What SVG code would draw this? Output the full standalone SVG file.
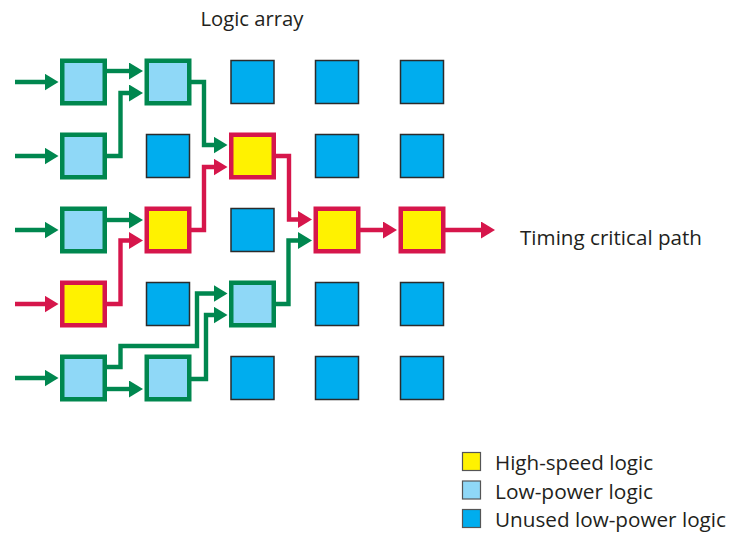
<svg xmlns="http://www.w3.org/2000/svg" width="737" height="533" viewBox="0 0 737 533">
<style>
.lbl{font-family:"Open Sans","Liberation Sans",sans-serif;font-size:20.5px;fill:#231f20}
.g{fill:none;stroke:#00874f;stroke-width:4.4;stroke-linejoin:miter}
.r{fill:none;stroke:#d6164b;stroke-width:4.4;stroke-linejoin:miter}
.lp{fill:#8fd8f7;stroke:#00874f;stroke-width:4.5}
.hs{fill:#fff200;stroke:#d6164b;stroke-width:4.5}
.un{fill:#00adee;stroke:#2b2b2b;stroke-width:1.5}
.lg{stroke:#555;stroke-width:1.2}
</style>
<defs>
<marker id="ag" markerUnits="userSpaceOnUse" markerWidth="14" markerHeight="17" refX="6" refY="8.5" orient="auto"><path d="M0,0 L14,8.5 L0,17 z" fill="#00874f"/></marker>
<marker id="ar" markerUnits="userSpaceOnUse" markerWidth="14" markerHeight="17" refX="6" refY="8.5" orient="auto"><path d="M0,0 L14,8.5 L0,17 z" fill="#d6164b"/></marker>
</defs>
<text class="lbl" x="200.5" y="26" textLength="103" lengthAdjust="spacingAndGlyphs">Logic array</text>
<text class="lbl" x="520" y="245" textLength="182" lengthAdjust="spacingAndGlyphs">Timing critical path</text>
<g id="connectors">
<path class="g" marker-end="url(#ag)" d="M15,82 H50.5"/>
<path class="g" marker-end="url(#ag)" d="M15,156 H50.5"/>
<path class="g" marker-end="url(#ag)" d="M15,230 H50.5"/>
<path class="r" marker-end="url(#ar)" d="M15,304 H50.5"/>
<path class="g" marker-end="url(#ag)" d="M15,378 H50.5"/>
<path class="g" marker-end="url(#ag)" d="M104,71 H135"/>
<path class="g" marker-end="url(#ag)" d="M104,156 H120.5 V93 H135"/>
<path class="g" marker-end="url(#ag)" d="M188,82 H204 V145 H219.5"/>
<path class="g" marker-end="url(#ag)" d="M104,220 H135"/>
<path class="r" marker-end="url(#ar)" d="M104,304 H120.5 V240.5 H135"/>
<path class="r" marker-end="url(#ar)" d="M188,230 H204 V167 H219.5"/>
<path class="r" marker-end="url(#ar)" d="M272,156 H289 V219.5 H304"/>
<path class="g" marker-end="url(#ag)" d="M272,304 H288.5 V240.5 H304"/>
<path class="r" marker-end="url(#ar)" d="M356,230 H389"/>
<path class="r" marker-end="url(#ar)" d="M441,230 H487"/>
<path class="g" marker-end="url(#ag)" d="M104,367 H120.5 V346 H197 V293.5 H219.5"/>
<path class="g" marker-end="url(#ag)" d="M104,389 H135"/>
<path class="g" marker-end="url(#ag)" d="M188,379 H206 V315 H219.5"/>
</g>
<g id="n11"><rect class="lp" x="62.25" y="60.75" width="42.5" height="42.5"/></g>
<g id="n12"><rect class="lp" x="146.75" y="60.75" width="42.5" height="42.5"/></g>
<g id="n13"><rect class="un" x="231" y="60.5" width="43" height="43"/></g>
<g id="n14"><rect class="un" x="315.5" y="60.5" width="43" height="43"/></g>
<g id="n15"><rect class="un" x="400.5" y="60.5" width="43" height="43"/></g>
<g id="n21"><rect class="lp" x="62.25" y="134.75" width="42.5" height="42.5"/></g>
<g id="n22"><rect class="un" x="146.5" y="134.5" width="43" height="43"/></g>
<g id="n23"><rect class="hs" x="231.25" y="134.75" width="42.5" height="42.5"/></g>
<g id="n24"><rect class="un" x="315.5" y="134.5" width="43" height="43"/></g>
<g id="n25"><rect class="un" x="400.5" y="134.5" width="43" height="43"/></g>
<g id="n31"><rect class="lp" x="62.25" y="208.75" width="42.5" height="42.5"/></g>
<g id="n32"><rect class="hs" x="146.75" y="208.75" width="42.5" height="42.5"/></g>
<g id="n33"><rect class="un" x="231" y="208.5" width="43" height="43"/></g>
<g id="n34"><rect class="hs" x="315.75" y="208.75" width="42.5" height="42.5"/></g>
<g id="n35"><rect class="hs" x="400.75" y="208.75" width="42.5" height="42.5"/></g>
<g id="n41"><rect class="hs" x="62.25" y="282.75" width="42.5" height="42.5"/></g>
<g id="n42"><rect class="un" x="146.5" y="282.5" width="43" height="43"/></g>
<g id="n43"><rect class="lp" x="231.25" y="282.75" width="42.5" height="42.5"/></g>
<g id="n44"><rect class="un" x="315.5" y="282.5" width="43" height="43"/></g>
<g id="n45"><rect class="un" x="400.5" y="282.5" width="43" height="43"/></g>
<g id="n51"><rect class="lp" x="62.25" y="356.75" width="42.5" height="42.5"/></g>
<g id="n52"><rect class="lp" x="146.75" y="356.75" width="42.5" height="42.5"/></g>
<g id="n53"><rect class="un" x="231" y="356.5" width="43" height="43"/></g>
<g id="n54"><rect class="un" x="315.5" y="356.5" width="43" height="43"/></g>
<g id="n55"><rect class="un" x="400.5" y="356.5" width="43" height="43"/></g>
<g id="legend">
<rect class="lg" x="462.5" y="452.5" width="18" height="18" fill="#fff200"/>
<rect class="lg" x="462.5" y="481" width="18" height="18" fill="#8fd8f7"/>
<rect class="lg" x="462.5" y="509.5" width="18" height="18" fill="#00adee"/>
<text class="lbl" x="495" y="470" textLength="158" lengthAdjust="spacingAndGlyphs">High-speed logic</text>
<text class="lbl" x="495" y="498.5" textLength="158" lengthAdjust="spacingAndGlyphs">Low-power logic</text>
<text class="lbl" x="495" y="527" textLength="231" lengthAdjust="spacingAndGlyphs">Unused low-power logic</text>
</g>
</svg>
